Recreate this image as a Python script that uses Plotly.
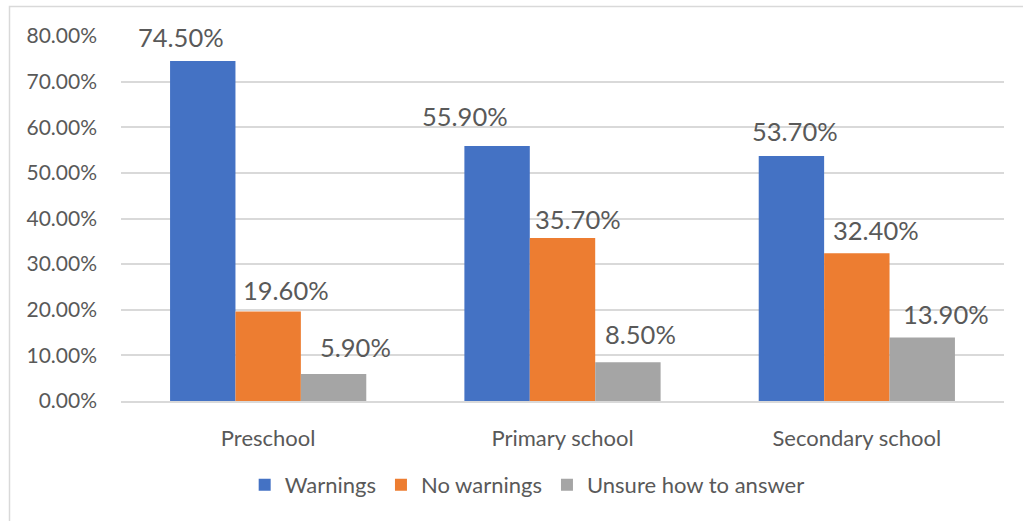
import plotly.graph_objects as go

# Survey results by school level
categories = ["Preschool", "Primary school", "Secondary school"]
series_names = ["Warnings", "No warnings", "Unsure how to answer"]
warnings = [0.745, 0.559, 0.537]
no_warnings = [0.196, 0.357, 0.324]
unsure = [0.059, 0.085, 0.139]
y_ticks = [0.0, 0.1, 0.2, 0.3, 0.4, 0.5, 0.6, 0.7, 0.8]

colors = ["#4472C4", "#ED7D31", "#A5A5A5"]
text_color = "#595959"
font_family = "Lato, 'Open Sans', sans-serif"

# figure geometry (pixels)
W, H = 1023, 521
m_l, m_r, m_t, m_b = 121, 19, 36, 120
plot_w = W - m_l - m_r
plot_h = H - m_t - m_b
bargap = 1 / 3
bar_w = plot_w / len(categories) * (1 - bargap) / len(series_names)

# hand-placed data label nudges (dx, dy) relative to each bar's top centre
label_nudges = [
    [(-22, 24), (-32, 30), (4, 25)],
    [(18, 22), (15, 19), (19, 23)],
    [(22, 27), (13, 28), (24, 24)],
]

fig = go.Figure()
all_series = [warnings, no_warnings, unsure]
for name, vals, col in zip(series_names, all_series, colors):
    fig.add_trace(go.Bar(
        name=name, x=categories, y=vals,
        marker=dict(color=col, line=dict(width=0)),
    ))

annotations = []
for s, vals in enumerate(all_series):
    offset = (s - 1) * bar_w
    for c, v in enumerate(vals):
        dx, dy = label_nudges[s][c]
        annotations.append(dict(
            x=categories[c], y=v, xref="x", yref="y",
            text=f"{v * 100:.2f}%", showarrow=False,
            xanchor="center", yanchor="middle",
            xshift=offset + dx, yshift=dy,
            font=dict(size=25.5, color=text_color, family=font_family),
        ))

# light outer frame of the chart area
shapes = [dict(
    type="rect", xref="paper", yref="paper",
    x0=(9.5 - m_l) / plot_w, x1=(W + 20 - m_l) / plot_w,
    y0=-(H + 20 - m_t - plot_h) / plot_h, y1=(H - 6.5 - m_b) / plot_h,
    line=dict(color="#D9D9D9", width=1.5), fillcolor="rgba(0,0,0,0)",
    layer="below",
)]

fig.update_layout(
    width=W, height=H,
    margin=dict(l=m_l, r=m_r, t=m_t, b=m_b, pad=0),
    paper_bgcolor="white", plot_bgcolor="white",
    barmode="group", bargap=bargap, bargroupgap=0,
    font=dict(family=font_family, color=text_color),
    annotations=annotations, shapes=shapes,
    legend=dict(
        orientation="h", x=0.46, xanchor="center", y=-0.23, yanchor="middle",
        font=dict(size=22, color=text_color, family=font_family),
        itemwidth=30, traceorder="normal", bgcolor="rgba(0,0,0,0)",
    ),
    xaxis=dict(
        showline=True, linecolor="#D9D9D9", linewidth=1.5,
        ticks="", tickfont=dict(size=22, color=text_color),
        ticklabelstandoff=17,
    ),
    yaxis=dict(
        range=[0, 0.8], tickvals=y_ticks, tickformat=".2%",
        showgrid=True, gridcolor="#D9D9D9", gridwidth=1.5,
        zeroline=False, showline=False, ticks="",
        tickfont=dict(size=21, color=text_color),
        ticklabelstandoff=23,
    ),
)

fig.write_html("out.html")
